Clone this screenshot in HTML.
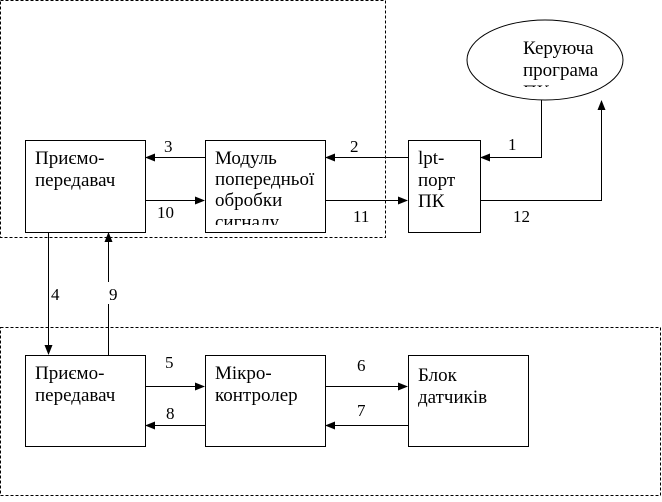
<!DOCTYPE html>
<html><head><meta charset="utf-8"><style>
body{margin:0;background:#fff}
svg text{font-family:"Liberation Serif",serif;font-size:19px;fill:#000}
svg text.n{font-size:17px}
</style></head><body>
<svg width="662" height="497" viewBox="0 0 662 497" xmlns="http://www.w3.org/2000/svg">
<defs>
<marker id="a" markerWidth="10" markerHeight="8" refX="9" refY="4" orient="auto" markerUnits="userSpaceOnUse"><path d="M0,0 L10,4 L0,8 z" fill="#000"/></marker>
<clipPath id="c1"><rect x="205" y="140" width="120" height="85"/></clipPath>
<clipPath id="c2"><rect x="460" y="0" width="200" height="87"/></clipPath>
</defs>
<g fill="none" stroke="#000" stroke-width="1">
<rect x="0.5" y="0.5" width="385" height="237" stroke-dasharray="3,2"/>
<rect x="0.5" y="327.5" width="660" height="168" stroke-dasharray="3,2"/>
<rect x="25.5" y="140.5" width="120" height="92"/>
<rect x="205.5" y="140.5" width="120" height="92"/>
<rect x="408.5" y="140.5" width="72" height="92"/>
<ellipse cx="545" cy="60" rx="78" ry="40"/>
<rect x="25.5" y="355.5" width="120" height="91"/>
<rect x="205.5" y="355.5" width="120" height="91"/>
<rect x="408.5" y="355.5" width="120" height="91"/>
<line x1="205" y1="157.5" x2="146" y2="157.5" marker-end="url(#a)"/>
<line x1="408" y1="157.5" x2="326" y2="157.5" marker-end="url(#a)"/>
<polyline points="541.5,100 541.5,157.5 481,157.5" marker-end="url(#a)"/>
<line x1="145" y1="200.5" x2="204" y2="200.5" marker-end="url(#a)"/>
<line x1="325" y1="200.5" x2="407" y2="200.5" marker-end="url(#a)"/>
<polyline points="480,200.5 601.5,200.5 601.5,101" marker-end="url(#a)"/>
<line x1="48.5" y1="232" x2="48.5" y2="354" marker-end="url(#a)"/>
<line x1="108.5" y1="355" x2="108.5" y2="233" marker-end="url(#a)"/>
<line x1="145" y1="386.5" x2="204" y2="386.5" marker-end="url(#a)"/>
<line x1="325" y1="386.5" x2="407" y2="386.5" marker-end="url(#a)"/>
<line x1="205" y1="425.5" x2="146" y2="425.5" marker-end="url(#a)"/>
<line x1="408" y1="425.5" x2="326" y2="425.5" marker-end="url(#a)"/>
</g>
<rect x="49" y="282" width="12" height="22" fill="#fff"/>
<rect x="104" y="282" width="12" height="22" fill="#fff"/>
<text x="35" y="164">Приємо-</text>
<text x="35" y="186">передавач</text>
<g clip-path="url(#c1)"><text x="215" y="164">Модуль</text><text x="215" y="185">попередньої</text><text x="215" y="206">обробки</text><text x="215" y="228">сигналу</text></g>
<text x="418" y="164">lpt-</text>
<text x="418" y="186">порт</text>
<text x="418" y="207">ПК</text>
<g clip-path="url(#c2)"><text x="523" y="54">Керуюча</text><text x="523" y="76">програма</text><text x="523" y="98">ПК</text></g>
<text class="n" x="164" y="152">3</text><text class="n" x="350" y="152">2</text><text class="n" x="508" y="150">1</text>
<text class="n" x="157" y="218">10</text><text class="n" x="353" y="222">11</text><text class="n" x="513" y="222">12</text>
<text class="n" x="51" y="300">4</text><text class="n" x="109" y="300">9</text>
<text x="35" y="379">Приємо-</text><text x="35" y="401">передавач</text>
<text x="215" y="379">Мікро-</text><text x="215" y="401">контролер</text>
<text x="418" y="381">Блок</text><text x="418" y="403">датчиків</text>
<text class="n" x="165" y="368">5</text><text class="n" x="357" y="371">6</text>
<text class="n" x="166" y="419">8</text><text class="n" x="357" y="416">7</text>
</svg>
</body></html>
